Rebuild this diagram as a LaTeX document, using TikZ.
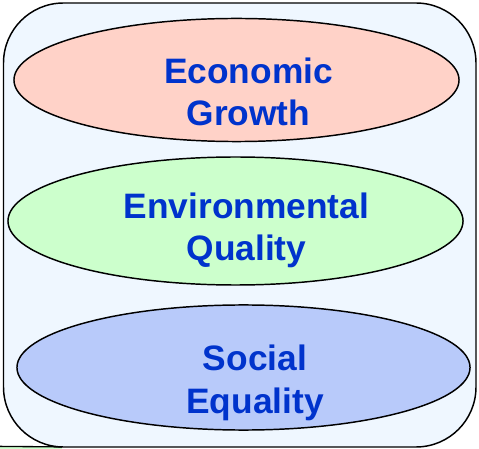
\documentclass[tikz,border=0pt]{standalone}
\usepackage{fontspec}
\usepackage{tikz}
\usetikzlibrary{shapes.geometric}

\newfontfamily\pillarfont{Liberation Sans}

\definecolor{frameblue}{HTML}{EFF7FF}
\definecolor{econred}{HTML}{FFD2C8}
\definecolor{envgreen}{HTML}{CCFFCC}
\definecolor{socblue}{HTML}{B8CAFA}
\definecolor{textblue}{HTML}{0033CC}

\tikzset{
    pillar/.style={draw, ellipse, line width=1.1pt, inner sep=0pt},
    pillartext/.style={align=center, anchor=base, text=textblue, inner sep=0pt,
        font=\pillarfont\bfseries\fontsize{26.5}{32}\selectfont}
}

\begin{document}
\begin{tikzpicture}[x=0.75pt, y=-0.75pt]
    \useasboundingbox (0,0) rectangle (479,449);

    % Piece of the next shape peeking in at the bottom
    \fill[envgreen] (0,447) rectangle (62,449);
    \draw[line width=1pt] (0,446.4) -- (62,446.9);

    % Outer frame
    \draw[line width=1.1pt, fill=frameblue, rounded corners=45pt] (3.5,3) rectangle (476,447);

    % Three pillars (label anchor sits on the second line)
    \node[pillar, fill=econred, minimum width=333.8pt, minimum height=92.3pt] (econ) at (236.5,80) {};
    \node[pillartext] (econlbl) at (248.5,126) {Economic\\Growth};

    \node[pillar, fill=envgreen, minimum width=341.3pt, minimum height=96pt] (env) at (235.5,221) {};
    \node[pillartext] (envlbl) at (246.5,261) {Environmental\\Quality};

    \node[pillar, fill=socblue, minimum width=339.8pt, minimum height=93.8pt] (soc) at (243.5,367.5) {};
    \node[pillartext] (soclbl) at (255,413) {Social\\Equality};
\end{tikzpicture}
\end{document}
